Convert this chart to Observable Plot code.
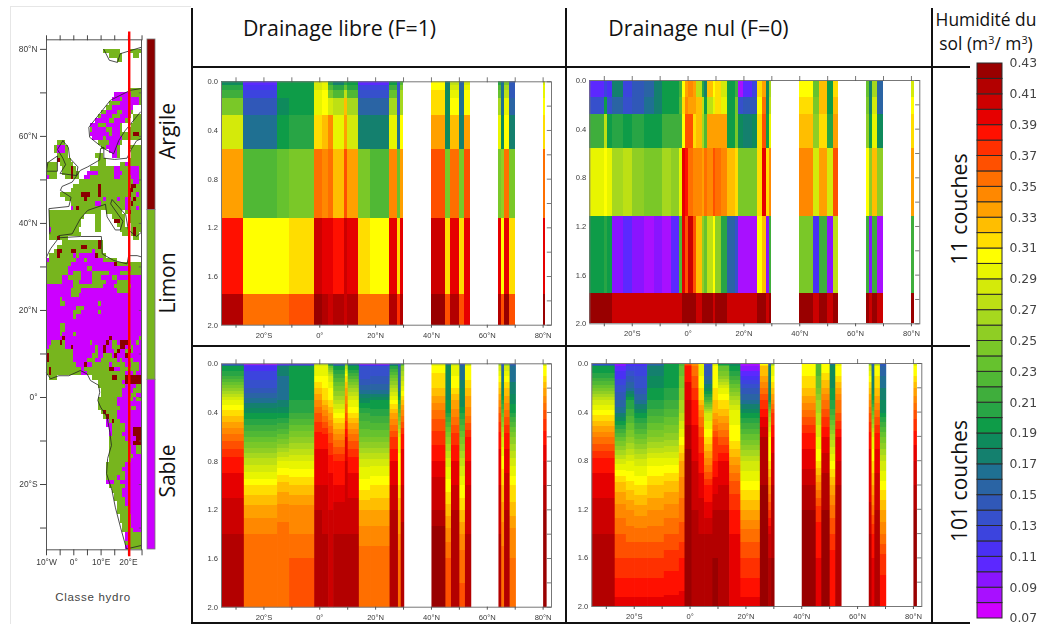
<!DOCTYPE html>
<html><head><meta charset="utf-8">
<script src="https://cdn.jsdelivr.net/npm/d3@7"></script>
<script src="https://cdn.jsdelivr.net/npm/@observablehq/plot@0.6"></script>
<style>
html,body{margin:0;padding:0;background:#fff;overflow:hidden}
#page{position:relative;width:1045px;height:624px;background:#fff}
#page svg{position:absolute;background:transparent;overflow:visible;filter:blur(.4px)}
.t{position:absolute;white-space:nowrap;font-family:"Open Sans",sans-serif;color:#111;line-height:1;transform:translate(-50%,-50%)}
.r{transform:translate(-50%,-50%) rotate(-90deg)}
.ln{position:absolute;background:#111}
sup{font-size:.62em;line-height:0}
</style></head><body><div id="page"></div>
<script>
// colour scale of soil moisture (m3/m3)
const moistureThresholds=[.08,.09,.10,.11,.12,.13,.14,.15,.16,.17,.18,.19,.20,.21,.22,.23,.24,.25,.26,.27,.28,.29,.30,.31,.32,.33,.34,.35,.36,.37,.38,.39,.40,.41,.42];
const moistureColors=["#d000ff","#a810ff","#8a14ff","#5c28ff","#4a30f4","#3c44de","#3650cc","#3058b8","#2a64a4","#1f7092","#14806e","#0e8a5c","#0e9c48","#28a545","#3fae3c","#50b835","#66c22e","#7ac828","#8fce24","#a6d81e","#bde014","#d4ea0a","#e8f500","#ffff00","#ffdd00","#ffbe00","#ffa000","#ff8800","#ff6f00","#ff5000","#ff3000","#ff1000","#e60000","#cc0000","#b30000","#990000"];
const legendLows=[.07,.08,.09,.10,.11,.12,.13,.14,.15,.16,.17,.18,.19,.20,.21,.22,.23,.24,.25,.26,.27,.28,.29,.30,.31,.32,.33,.34,.35,.36,.37,.38,.39,.40,.41,.42];
const legendTicks=[.07,.09,.11,.13,.15,.17,.19,.21,.23,.25,.27,.29,.31,.33,.35,.37,.39,.41,.43];

// 11-layer, free drainage
const p1Lat=[[-35.2,-27.2],[-27.2,-15.3],[-15.3,-11],[-11,-2],[-2,.8],[.8,3],[3,4.8],[4.8,9],[9,10],[10,14],[14,18],[18,25],[25,28],[28,29],[29,30],[40,45],[45,47],[47,50],[50,52],[52,54],[64,65],[65,66],[66,68],[68,70],[80,81]];
const p1Depth=[0,.03,.07,.14,.28,.56,1.12,1.75,2];
const p1Values=[
[.185,.105,.19,.19,.285,.29,.2,.17,.2,.19,.105,.105,.19,.13,.22,.30,.17,.27,.15,.285,.2,.16,.24,.14,.285],
[.2,.115,.195,.195,.285,.29,.22,.2,.23,.2,.12,.12,.21,.13,.24,.305,.175,.28,.155,.29,.22,.16,.26,.14,.29],
[.215,.125,.195,.195,.29,.3,.24,.22,.27,.22,.13,.13,.23,.13,.26,.315,.18,.29,.16,.3,.23,.16,.27,.145,.295],
[.24,.14,.18,.195,.295,.305,.285,.27,.32,.26,.15,.15,.265,.135,.265,.315,.18,.30,.165,.305,.265,.16,.29,.15,.30],
[.28,.165,.195,.205,.315,.325,.34,.29,.33,.28,.175,.175,.29,.165,.30,.335,.185,.325,.175,.33,.29,.18,.30,.175,.31],
[.335,.225,.235,.245,.355,.345,.355,.325,.36,.335,.24,.225,.345,.23,.335,.365,.24,.35,.24,.36,.245,.25,.35,.245,.35],
[.385,.305,.305,.315,.405,.39,.395,.385,.405,.39,.315,.305,.39,.31,.39,.405,.31,.395,.31,.39,.39,.305,.395,.31,.39],
[.415,.355,.355,.365,.425,.415,.405,.415,.405,.415,.355,.355,.415,.375,.415,.425,.365,.415,.36,.39,.415,.36,.42,.36,.425]];

// 11-layer, no drainage
const p2Lat=[[-35.2,-30],[-30,-29],[-29,-27],[-27,-23],[-23,-20],[-20,-15.5],[-15.5,-12],[-12,-9],[-9,-6],[-6,-3],[-3,-2],[-2,-1],[-1,0],[0,2],[2,3],[3,5],[5,6],[6,7],[7,9],[9,10],[10,12],[12,14],[14,17],[17,18],[18,20],[20,23],[23,25],[25,26.5],[26.5,28],[28,29],[29,30],[40,45],[45,47],[47,50],[50,52],[52,54],[64,65],[65,66],[66,68],[68,70],[80,81]];
const p2Depth=[0,.14,.28,.56,1.12,1.75,2];
const p2Values=[
[.105,.12,.11,.17,.12,.14,.15,.17,.19,.195,.21,.30,.33,.345,.33,.27,.2,.17,.325,.30,.31,.285,.19,.21,.08,.10,.12,.31,.335,.18,.26,.30,.23,.32,.19,.31,.23,.17,.26,.15,.28],
[.13,.195,.13,.15,.135,.145,.16,.17,.19,.195,.225,.31,.345,.335,.33,.32,.27,.19,.27,.29,.31,.29,.19,.24,.13,.14,.145,.30,.35,.18,.27,.315,.24,.32,.19,.32,.24,.17,.28,.15,.30],
[.215,.27,.19,.205,.19,.205,.19,.19,.215,.21,.21,.305,.36,.36,.31,.32,.26,.22,.33,.33,.335,.335,.19,.24,.18,.175,.18,.31,.36,.19,.29,.32,.25,.31,.20,.33,.25,.19,.295,.185,.315],
[.295,.30,.29,.26,.27,.255,.245,.245,.265,.255,.29,.395,.385,.355,.345,.34,.335,.35,.345,.365,.355,.345,.325,.31,.245,.245,.245,.31,.39,.315,.345,.345,.28,.335,.285,.365,.30,.25,.32,.25,.335],
[.195,.20,.195,.095,.105,.09,.085,.095,.085,.10,.22,.39,.36,.40,.36,.32,.25,.235,.27,.30,.25,.20,.15,.13,.085,.085,.085,.30,.32,.09,.21,.245,.115,.215,.09,.27,.21,.09,.21,.085,.21],
[.425,.425,.425,.405,.405,.405,.405,.405,.405,.405,.405,.425,.425,.425,.425,.405,.425,.425,.425,.405,.425,.425,.405,.405,.405,.405,.405,.425,.425,.405,.425,.425,.405,.425,.405,.425,.425,.405,.425,.405,.425]];

// 101-layer profiles: moisture read at these depths, one row per land column
const profileDepth=[0,.02,.1,.2,.3,.4,.6,.8,1,1.2,1.4,1.6,2];
const p3Lat=p1Lat;
const p3Profiles=[
[.12,.19,.21,.25,.29,.315,.355,.385,.395,.405,.41,.415,.415],
[.08,.115,.125,.14,.165,.19,.23,.275,.31,.335,.35,.355,.355],
[.09,.18,.17,.165,.17,.19,.235,.29,.325,.345,.355,.355,.36],
[.10,.19,.195,.195,.2,.21,.25,.29,.32,.345,.35,.36,.365],
[.27,.29,.3,.32,.34,.36,.385,.395,.40,.41,.415,.415,.415],
[.27,.29,.3,.31,.32,.345,.385,.395,.40,.405,.41,.415,.415],
[.17,.23,.28,.30,.31,.33,.365,.385,.395,.40,.40,.405,.405],
[.13,.19,.215,.245,.27,.30,.345,.38,.39,.405,.41,.415,.415],
[.22,.27,.31,.33,.345,.36,.39,.40,.405,.405,.41,.41,.41],
[.14,.19,.22,.26,.29,.31,.355,.385,.395,.405,.41,.415,.415],
[.09,.13,.135,.155,.185,.21,.24,.285,.305,.33,.345,.355,.355],
[.09,.13,.14,.155,.19,.205,.24,.285,.31,.33,.345,.355,.355],
[.15,.2,.235,.27,.30,.33,.37,.39,.40,.41,.415,.415,.415],
[.12,.15,.15,.16,.2,.23,.29,.305,.31,.33,.34,.355,.36],
[.2,.25,.27,.295,.32,.345,.385,.395,.40,.405,.415,.415,.415],
[.28,.3,.315,.32,.335,.355,.375,.39,.405,.41,.425,.425,.425],
[.16,.18,.18,.185,.19,.2,.25,.285,.305,.325,.345,.36,.365],
[.26,.295,.3,.31,.33,.345,.375,.39,.40,.41,.415,.415,.415],
[.13,.165,.165,.18,.18,.2,.24,.275,.30,.32,.34,.355,.365],
[.27,.3,.305,.32,.335,.345,.38,.39,.40,.405,.41,.41,.41],
[.25,.28,.30,.32,.34,.36,.385,.395,.40,.405,.41,.415,.415],
[.13,.155,.165,.175,.2,.23,.28,.305,.32,.335,.345,.355,.36],
[.24,.28,.30,.32,.335,.355,.385,.395,.405,.41,.41,.415,.415],
[.14,.16,.165,.175,.185,.2,.25,.285,.31,.325,.345,.35,.35],
[.27,.3,.31,.33,.345,.365,.385,.40,.41,.42,.42,.425,.425]];
const p4Lat=[[-35.2,-27],[-27,-23],[-23,-20],[-20,-15.4],[-15.4,-9.4],[-9.4,-4],[-4,-2],[-2,.5],[.5,3],[3,5],[5,8],[8,10],[10,14],[14,18],[18,25],[25,28],[28,29],[29,30],[40,45],[45,47],[47,50],[50,52],[52,54],[64,65],[65,66],[66,68],[68,70],[80,81]];
const p4Profiles=[
[.12,.19,.205,.24,.28,.305,.35,.385,.395,.405,.41,.415,.42],
[.09,.105,.115,.135,.15,.17,.23,.285,.325,.345,.36,.37,.395],
[.11,.12,.14,.16,.2,.215,.25,.29,.315,.34,.355,.37,.395],
[.11,.12,.13,.14,.16,.19,.235,.285,.31,.335,.355,.37,.395],
[.15,.17,.18,.19,.2,.215,.25,.295,.32,.34,.355,.37,.395],
[.19,.195,.195,.2,.21,.225,.255,.295,.325,.345,.36,.375,.395],
[.22,.23,.24,.25,.26,.27,.3,.33,.345,.355,.365,.38,.395],
[.36,.38,.385,.395,.4,.405,.415,.425,.425,.425,.425,.425,.425],
[.34,.35,.36,.37,.38,.385,.395,.4,.405,.41,.41,.415,.415],
[.30,.29,.30,.31,.32,.345,.37,.385,.395,.405,.41,.415,.42],
[.12,.14,.15,.18,.22,.28,.31,.345,.38,.395,.41,.415,.42],
[.28,.3,.3,.31,.32,.33,.37,.38,.395,.41,.415,.42,.42],
[.18,.23,.25,.29,.31,.325,.36,.39,.40,.41,.415,.415,.42],
[.18,.19,.21,.24,.27,.295,.305,.335,.365,.38,.39,.395,.40],
[.08,.09,.11,.14,.16,.19,.235,.28,.305,.33,.355,.37,.395],
[.3,.32,.33,.35,.37,.385,.41,.415,.42,.42,.425,.425,.425],
[.14,.17,.17,.18,.19,.25,.30,.31,.34,.37,.40,.41,.42],
[.24,.29,.30,.32,.34,.37,.39,.405,.41,.415,.415,.42,.42],
[.3,.305,.31,.32,.335,.355,.385,.395,.41,.42,.425,.425,.425],
[.22,.22,.23,.24,.26,.27,.29,.31,.345,.375,.385,.39,.395],
[.31,.3,.315,.33,.35,.365,.39,.405,.415,.42,.42,.42,.42],
[.16,.18,.18,.19,.2,.215,.265,.30,.33,.355,.37,.385,.39],
[.29,.3,.31,.33,.35,.36,.39,.40,.41,.41,.41,.415,.415],
[.24,.28,.3,.32,.34,.36,.385,.395,.39,.405,.41,.415,.415],
[.14,.16,.17,.18,.2,.235,.29,.31,.33,.355,.38,.39,.395],
[.26,.3,.31,.32,.335,.355,.385,.395,.405,.41,.41,.415,.415],
[.14,.15,.16,.17,.18,.19,.24,.28,.305,.33,.35,.375,.39],
[.28,.3,.31,.33,.345,.365,.385,.40,.41,.42,.42,.425,.425]];

const latTicks=[-30,-20,-10,0,10,20,30,40,50,60,70,80];
const latLabels=[-20,0,20,40,60,80];
const depthTicks=[0,.2,.4,.6,.8,1,1.2,1.4,1.6,1.8,2];
const depthLabels=[0,.4,.8,1.2,1.6,2];

// soil class map: class+first-last column (column 0 = 10W, 1 degree wide); one row per 1-degree latitude
const classNames=["Argile","Limon","Sable"];
const classColors=["#8b0000","#77b51e","#cc00ff"];
const mapRows=[
[80,"L21-26 L30-34"],[79,"L23-27 L32-33"],[78,"L26-27"],
[71,"L30-34"],[70,"L25-34 S25-30"],[69,"L24-34 S24-26 S28-33"],[68,"L23-34 S27-33"],[67,"L22-31 S24-31"],[66,"L20-31 S22-30 L26-27"],[65,"L19-30 S20-29 L24-26 L32-34"],[64,"L18-29 S18-28 L23-24 L32-34"],[63,"L16-27 S16-26 L19-21 L31-34"],[62,"L16-27 S17-26 L22-23 L30-34"],[61,"L16-28 S16-22 S24-26 L29-34 A32-33"],[60,"L17-28 S17-20 S22-27 L29-34"],
[59,"L4-6 L19-27 S23-26"],[58,"L3-7 S4-6 L20-26 S22-25 L30-34"],[57,"L3-7 S4-6 L23-26 S23-25 L31-34"],[56,"L4-7 L18-20 L24-26 S24-25 L31-34"],[55,"L4-8 A4 L19-21 L30-34"],[54,"L0-3 L5-9 L19-21 L27-34 S29"],[53,"L0-3 L6-10 A9 L16-34 S25-26 S30-33"],[52,"L0-3 L6-11 A9 L15-34 S15-18 S25-27 S30-33"],[51,"L0-3 S0 L7-11 A9 L14-34 S14-15 S25-26 S31-33"],[50,"L12-34 S32-33"],[49,"L10-34 A19 A31-32"],[48,"L9-34 A19 A30-31"],[47,"L5-34 A13-15 A19 A30 S33"],[46,"L7-34 A14 A32 S21 S26 S29-30"],[45,"L9-34 S18-19 A31 S29"],[44,"L9-34 A11 S9 S29 S33"],[43,"L1-19 L22-27 L29-34 A30"],[42,"L1-13 L18-19 L24-28 L30-34"],[41,"L1-12 L18-19 L25-28 A25-26 L30-34"],[40,"L1-12 L18-19 L26-28 L31-34"],[39,"L1-11 S1 L18-19 L27-29 L31-34 A32"],[38,"L1-12 L28-29 L31-33 A32"],[37,"L1-7 A4 L32-33"],[36,"L6-20 A19"],[35,"L4-20 A13-14 A19"],[34,"L3-20 A4-5 A9-10 S17"],[33,"L1-21 S10 S12-18 A4 A18"],[32,"L0-25 S0 S11-20 L14"],[31,"L0-34 S9-25 A25"],[30,"L0-34 S8-14 S17-30"],[29,"L0-34 S8-9 S13-16 S23-26"],[28,"L0-34 S6-7 S13-16 S20-23 S26-34"],[27,"L0-34 S6-9 S12-16 S22-25 S30-34"],
[26,"S0-34 L10-20 L25-30"],[25,"S0-34 L9-12 L26-29"],[24,"S0-34 L9-11"],[23,"S0-34 L5"],[22,"S0-34 L5-6 L19"],[21,"S0-34 L11-13"],[20,"S0-34 L10-12 L19"],[19,"S0-34 L10"],[18,"S0-34"],[17,"S0-34 L5-6"],[16,"S0-34 L5-6"],[15,"S0-34 L5 L10"],[14,"S0-34 A6 A23 L34"],[13,"S0-34 L2-6 A5 L16 A22 L24-25 A27-29 L30 L33"],[12,"S0-34 L1-6 A9 L18 A21 L24-26 A27-28 L31"],[11,"S0-34 L0-9 L18 A21 L25 A26 L29 L31 A30"],[10,"S0-34 L0-9 L17-18 L21-23 A25 A29 A0"],[9,"S0-34 L0-9 A0 L15-17 L20-25 L27 L30-31"],[8,"S0-34 L0-10 A14 L17-22 L24-28 L31-33"],[7,"S0-34 L0-12 A1 L14-24 A23-24 L27-33"],[6,"S0-14 L0-12 A1 S15-34 L15-28 L32"],[5,"L1-3 L17-34 A24-25 A29-34"],[4,"L19-34 S28 A29-34"],[3,"L19-34 S29-32"],[2,"L20-34 S28-31"],[1,"L20-34 S28-30 S33-34"],[0,"L19-34 S26-29 S32"],[-1,"L19-34 S26-34"],[-2,"L19-26 S27-34 L31-32"],[-3,"L20-25 A21 S26-34"],[-4,"L21-25 S26-34 A22"],[-5,"S22-34 L23-26 A24"],[-6,"S22-34 L24-28"],[-7,"S23-34 L24-28 A32-34"],[-8,"S23-34 L24-27 A32-34"],[-9,"S23-34 L23-28 A33-34"],[-10,"S23-34 L23-29 A32-34"],[-11,"S23-34 L23-30 L33-34"],[-12,"S23-34 L23-30 L33-34"],[-13,"S23-34 L23-31"],[-14,"S23-34 L23-30"],[-15,"S22-34 L22-28"],[-16,"S22-34 L22-27"],[-17,"S22-34 L22-28"],[-18,"S22-34 L22-25 L27-28"],[-19,"S22-34 L25-26"],[-20,"S23-34 L23-26 L27-28"],[-21,"S24-34 L24-27"],[-22,"S25-34 L25-27"],[-23,"S25-34 L25-28"],[-24,"S26-34 L26-28"],[-25,"S26-34 L26-29"],[-26,"S26-34 L26-29"],[-27,"S27-34 L27-30"],[-28,"S27-34 L27-30"],[-29,"S28-34 L28-30"],[-30,"S28-34 L28-31"],[-31,"S29-34 L30-34"],[-32,"S29-34 L30-34"],[-33,"S29-34 L29-34"],[-34,"S29-34 L30-34"]];
const coasts=[
[[-10,5.6],[-8.5,4.3],[-5.5,5],[-1.8,5],[2.4,6.2],[4.9,5.4],[6.1,3.9],[9.1,2.8],[9.5,1.2],[8.8,-.7],[9.8,-2.2],[12.2,-4.5],[13.2,-8],[13.8,-11],[12.4,-14],[12,-17.5],[14,-21.4],[15.2,-25.2],[17.1,-29.8],[19.3,-34.8],[24.8,-34]],
[[-10,32.3],[-8.5,34.2],[-5.5,36.7],[2.4,37],[10.1,37],[10.4,33],[14.6,31.5],[19.5,30.7],[20.1,32.6],[23.2,32.6],[24.8,32.3]],
[[-8.8,37.6],[-9.1,43.4],[-1.8,43.9],[-1,46],[-4.9,47.6],[-4.3,48.5],[-.6,49.5],[2.4,52.2],[5.1,53],[9.5,54.6],[9.8,57.2],[11,57.5],[11,55],[15,54.7],[19.5,55],[21,57],[23,59],[24.8,59.5]],
[[-5.5,37.2],[-.6,37.6],[2.4,41.1],[5.1,43],[11.6,44.4],[12.2,41.5],[15.2,38.5],[17,38.5],[18,40.5],[13.5,44.5],[14,45.5],[19,42],[20,38.5],[23,37],[24.8,38]],
[[24.8,71],[20.7,70.6],[13.4,68.3],[5.5,62.1],[5.8,59.8],[11,57.2],[14.6,56],[16.5,59.1],[18.9,61.4],[24.4,65.6]],
[[-4,59],[-6,57],[-4,55],[-3,53.5],[-5,51.5],[1,51],[1.5,53],[-1.5,55],[-2,57.5],[-4,59]],
[[-10,52],[-9.5,54],[-6,55.5],[-6,52],[-10,52]],
[[11,80],[13,77.5],[16,77],[17,79],[24.8,80.5]]];
const mapLonTicks=[-10,-5,0,5,10,15,20,25];
const mapLonLabels=[-10,0,10,20];
const mapLatTicks=[-30,-20,-10,0,10,20,30,40,50,60,70,80];
const mapLatLabels=[-20,0,20,40,60,80];
const sectionLon=[20.3];

const page=document.getElementById("page");
const tickFont={fontFamily:"Liberation Sans, Arial, sans-serif",fontSize:"7.6px",fill:"#3a3a3a"};
const colorOpt={type:"threshold",domain:moistureThresholds,range:moistureColors};
const latFmt=d=>d===0?"0°":d<0?`${-d}°S`:`${d}°N`;
const lonFmt=d=>d===0?"0°":d<0?`${-d}°W`:`${d}°E`;
function place(svg,l,t){svg.style.left=l+"px";svg.style.top=t+"px";page.appendChild(svg);}

// rendering-only helper: value between the read depths of one column
function depthInterp(index,w,h,X,Y,V){
  const I=Array.from(index).sort((a,b)=>Y[a]-Y[b]);
  const out=new Array(w*h);
  for(let r=0;r<h;r++){
    const yy=r+.5;let k=0;
    while(k<I.length-2&&Y[I[k+1]]<yy)k++;
    const a=I[k],b=I[k+1];
    const t=Math.max(0,Math.min(1,(yy-Y[a])/(Y[b]-Y[a])));
    const v=V[a]+(V[b]-V[a])*t;
    for(let c=0;c<w;c++)out[r*w+c]=v;
  }
  return out;
}
function panelFrame(){
  return [
    Plot.frame({stroke:"#777",strokeWidth:1}),
    Plot.ruleY(depthTicks,{x1:81.5,x2:83,stroke:"#555",strokeWidth:.8}),
    Plot.axisX({anchor:"top",ticks:latTicks,tickSize:5,label:null,tickFormat:()=>"",stroke:"#555",strokeWidth:.8}),
    Plot.axisX({anchor:"bottom",ticks:latTicks,tickSize:3,tickFormat:d=>latLabels.includes(d)?latFmt(d):"",tickPadding:4,label:null,stroke:"#555",...tickFont}),
    Plot.axisY({anchor:"left",ticks:depthLabels,tickSize:0,tickPadding:3.5,tickFormat:".1f",label:null,...tickFont})
  ];
}
function panel(marks,L,T,R,B,sl,st,sr,sb){
  const svg=Plot.plot({width:sr-sl,height:sb-st,marginLeft:L-sl,marginRight:sr-R,marginTop:T-st,marginBottom:sb-B,
    x:{domain:[-35.2,83],axis:null},y:{domain:[0,2],reverse:true,axis:null},color:colorOpt,
    style:{background:"transparent"},marks:[...marks,...panelFrame()]});
  place(svg,sl,st);
}
function cells(lats,depths,vals){
  const out=[];
  vals.forEach((row,j)=>row.forEach((v,i)=>out.push({a:lats[i][0],b:lats[i][1],d0:depths[j],d1:depths[j+1],v})));
  return [Plot.rect(out,{x1:"a",x2:"b",y1:"d0",y2:"d1",fill:"v",shapeRendering:"crispEdges"})];
}
function profiles(lats,rows){
  return rows.map((row,i)=>Plot.raster(row.map((v,j)=>({x:(lats[i][0]+lats[i][1])/2,y:profileDepth[j],v})),
    {x:"x",y:"y",fill:"v",x1:lats[i][0],x2:lats[i][1]+.25,y1:0,y2:2,interpolate:depthInterp,imageRendering:"pixelated"}));
}
panel(cells(p1Lat,p1Depth,p1Values),221,81.3,551,324.7,192,67,566,345);
panel(cells(p2Lat,p2Depth,p2Values),589.3,80,919.3,323.3,566,67,932,345);
panel(profiles(p3Lat,p3Profiles),221,363.3,551,606.7,192,346,566,622);
panel(profiles(p4Lat,p4Profiles),591.3,363,921.3,606,566,346,932,622);

// map
const mapCells=[];
for(const [lat,runs] of mapRows){
  for(const m of runs.matchAll(/([ASL])(\d+)(?:-(\d+))?/g)){
    const a=+m[2],b=m[3]?+m[3]:a;
    mapCells.push({lon1:-10+a,lon2:-10+b+1,lat1:lat-1,lat2:lat,c:{A:"Argile",L:"Limon",S:"Sable"}[m[1]]});
  }
}
const coastData=coasts.flatMap((c,i)=>c.map(([lon,lat])=>({lon,lat,i})));
const mapSvg=Plot.plot({width:146,height:575,marginLeft:46,marginRight:146-141,marginTop:39.3,marginBottom:575-549.3,
  x:{domain:[-10,24.8],axis:null},y:{domain:[-35,82.2],axis:null},
  color:{domain:classNames,range:classColors},style:{background:"transparent"},
  marks:[
    Plot.rect(mapCells,{x1:"lon1",x2:"lon2",y1:"lat1",y2:"lat2",fill:"c",shapeRendering:"crispEdges"}),
    Plot.line(coastData,{x:"lon",y:"lat",z:"i",stroke:"#222",strokeWidth:.8,curve:"linear"}),
    Plot.ruleY(mapLatTicks,{x1:24,x2:24.8,stroke:"#555",strokeWidth:.8}),
    Plot.frame({stroke:"#555",strokeWidth:1}),
    Plot.axisX({anchor:"top",ticks:mapLonTicks,tickSize:5,label:null,tickFormat:()=>"",stroke:"#444"}),
    Plot.axisX({anchor:"bottom",ticks:mapLonTicks,tickSize:6,tickPadding:3,label:null,stroke:"#444",tickFormat:d=>mapLonLabels.includes(d)?lonFmt(d):"",...tickFont,fontSize:"8.4px"}),
    Plot.axisY({anchor:"left",ticks:mapLatTicks,tickSize:6,tickPadding:3,label:null,stroke:"#444",tickFormat:d=>mapLatLabels.includes(d)?latFmt(d):"",...tickFont,fontSize:"8.4px"}),
    Plot.ruleX(sectionLon,{y1:84,y2:-36.6,stroke:"#ff0000",strokeWidth:2.4})
  ]});
place(mapSvg,0,0);

// class bar
const classBounds=[[82.2,43],[43,4],[4,-35]];
const classSvg=Plot.plot({width:8,height:510,margin:0,x:{axis:null},y:{domain:[-35,82.2],axis:null},
  color:{domain:classNames,range:classColors},style:{background:"transparent"},
  marks:[Plot.rect(classNames.map((c,i)=>({c,t:classBounds[i][0],b:classBounds[i][1]})),{y1:"b",y2:"t",fill:"c",stroke:"#777",strokeWidth:.8})]});
place(classSvg,146.5,39.3);

// colour bar
const barSvg=Plot.plot({width:75,height:575,marginLeft:7,marginRight:43,marginTop:10,marginBottom:10,
  x:{axis:null},y:{domain:[.07,.43],axis:null},color:colorOpt,style:{background:"transparent"},
  marks:[
    Plot.rect(legendLows,{y1:d=>d,y2:d=>d+.01,fill:d=>d+.005,stroke:"#2a2a2a",strokeWidth:1}),
    Plot.axisY({anchor:"right",ticks:legendTicks,tickSize:0,tickPadding:7,tickFormat:".2f",label:null,fontFamily:"DejaVu Sans, sans-serif",fontSize:"12.4px",fill:"#444"})
  ]});
place(barSvg,970,53);

// lines of the surrounding table
[[191,8,2,616],[565,8,2,616],[931,8,2,616],[191,66,779,2],[191,345,779,2],[191,622,779,2]].forEach(([l,t,w,h])=>{
  const d=document.createElement("div");d.className="ln";
  d.style.cssText=`left:${l}px;top:${t}px;width:${w}px;height:${h}px`;page.appendChild(d);
});
[[10,6,1,618],[10,6,181,1]].forEach(([l,t,w,h])=>{
  const d=document.createElement("div");d.className="ln";
  d.style.cssText=`left:${l}px;top:${t}px;width:${w}px;height:${h}px;background:#e6e6e6`;page.appendChild(d);
});
// texts
function text(html,x,y,size,cls,extra){
  const d=document.createElement("div");d.className="t "+(cls||"");d.innerHTML=html;
  d.style.left=x+"px";d.style.top=y+"px";d.style.fontSize=size+"px";if(extra)d.style.cssText+=extra;page.appendChild(d);
}
text("Drainage libre (F=1)",339.5,28,21.3);
text("Drainage nul (F=0)",698.5,28,21.3);
text("Humidité du",986,20,17.4);
text("sol (m<sup>3</sup>/ m<sup>3</sup>)",986,44,17.4);
text("11 couches",959,209,21.3,"r");
text("101 couches",959,481,21,"r");
text("Argile",167,131,21.3,"r");
text("Limon",167,283,21,"r");
text("Sable",167,471,21,"r");
text("Classe hydro",93,598,11.5,"", "font-family:'Liberation Sans',Arial,sans-serif;color:#444;letter-spacing:.7px");
</script></body></html>
